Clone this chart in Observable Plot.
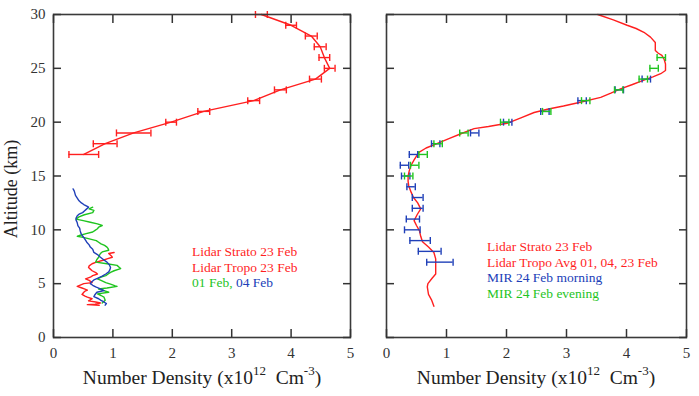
<!DOCTYPE html>
<html><head><meta charset="utf-8">
<script src="https://cdn.jsdelivr.net/npm/d3@7"></script>
<script src="https://cdn.jsdelivr.net/npm/@observablehq/plot@0.6"></script>
<style>
body{margin:0;background:#fff;}
#wrap{display:flex;width:699px;height:396px;background:#fff;}
svg{display:block}
</style></head><body><div id="wrap"></div>
<script>
// ---------- data ----------
const xTicks = [0, 1, 2, 3, 4, 5];
const yTicks = [0, 5, 10, 15, 20, 25, 30];

// Left panel: Lidar Strato 23 Feb (altitude km, density, error)
const strAlt = [17, 18, 19, 20, 21, 22, 23, 24, 25, 26, 27, 28, 29, 30];
const strVal = [0.51, 0.87, 1.35, 1.98, 2.53, 3.37, 3.82, 4.41, 4.65, 4.56, 4.49, 4.34, 4.00, 3.50];
const strErr = [0.25, 0.20, 0.29, 0.09, 0.10, 0.10, 0.10, 0.10, 0.09, 0.09, 0.10, 0.10, 0.09, 0.10];

// Left panel: Lidar Tropo 23 Feb [alt, density]
const tropoRed = [[7.9,1.02],[7.8,0.93],[7.6,0.97],[7.45,0.99],[7.3,0.90],[7.2,0.85],[7.0,0.72],[6.85,0.65],[6.65,0.60],[6.5,0.59],[6.35,0.62],[6.2,0.65],[6.0,0.72],[5.9,0.74],[5.75,0.66],[5.6,0.62],[5.45,0.54],[5.3,0.60],[5.1,0.65],[5.0,0.51],[4.85,0.44],[4.75,0.40],[4.6,0.48],[4.5,0.53],[4.4,0.57],[4.3,0.53],[4.2,0.51],[4.0,0.48],[3.85,0.53],[3.75,0.57],[3.6,0.65],[3.5,0.62],[3.4,0.59],[3.3,0.71],[3.2,0.79],[3.1,0.70],[3.05,0.57],[3.0,0.77]];
// 01 Feb
const tropoGreen = [[12.1,0.66],[11.95,0.60],[11.8,0.68],[11.6,0.66],[11.4,0.52],[11.2,0.43],[11.0,0.38],[10.85,0.50],[10.7,0.62],[10.55,0.74],[10.4,0.82],[10.25,0.76],[10.1,0.74],[9.95,0.70],[9.8,0.66],[9.65,0.55],[9.5,0.45],[9.4,0.40],[9.3,0.50],[9.2,0.57],[9.0,0.72],[8.85,0.76],[8.7,0.80],[8.55,0.86],[8.4,0.90],[8.25,0.92],[8.1,0.93],[7.95,0.82],[7.8,0.79],[7.6,0.77],[7.45,0.76],[7.25,0.73],[7.0,0.71],[6.85,0.90],[6.7,1.07],[6.55,1.10],[6.4,1.13],[6.2,1.02],[6.05,0.96],[5.9,0.92],[5.75,0.88],[5.6,0.80],[5.45,0.74],[5.3,0.80],[5.1,0.88],[4.95,0.96],[4.8,1.04],[4.75,1.07],[4.6,0.90],[4.5,0.76],[4.35,0.85],[4.2,0.93],[4.05,0.74],[3.9,0.80],[3.75,0.85],[3.6,0.86],[3.45,0.87],[3.3,0.84],[3.2,0.82]];
// 04 Feb
const tropoBlue = [[13.8,0.33],[13.6,0.35],[13.2,0.37],[12.95,0.40],[12.7,0.43],[12.5,0.47],[12.35,0.51],[12.2,0.56],[12.1,0.59],[11.9,0.55],[11.75,0.52],[11.6,0.49],[11.45,0.43],[11.3,0.40],[11.1,0.38],[10.9,0.38],[10.65,0.40],[10.4,0.41],[10.15,0.44],[9.9,0.45],[9.7,0.46],[9.5,0.48],[9.2,0.52],[8.85,0.56],[8.6,0.60],[8.4,0.62],[8.2,0.66],[7.9,0.68],[7.7,0.74],[7.45,0.79],[7.2,0.85],[7.0,0.90],[6.75,0.94],[6.5,0.96],[6.3,0.95],[6.1,0.93],[5.9,0.88],[5.7,0.82],[5.5,0.74],[5.35,0.68],[5.15,0.64],[5.0,0.62],[4.85,0.66],[4.7,0.71],[4.5,0.80],[4.35,0.85],[4.2,0.73],[4.0,0.70],[3.8,0.68],[3.6,0.76],[3.45,0.80],[3.3,0.85],[3.15,0.89],[3.0,0.87]];

// Right panel: Lidar Strato 23 Feb + Lidar Tropo Avg [alt, density]
const lidarAvg = [[30,3.52],[29.5,3.78],[29.0,4.01],[28.7,4.16],[28.35,4.29],[27.9,4.40],[27.4,4.48],[27.0,4.48],[26.65,4.48],[26.4,4.53],[26.2,4.59],[25.8,4.63],[25.4,4.65],[24.8,4.65],[24.5,4.57],[24.2,4.44],[23.9,4.29],[23.5,4.10],[23.1,3.90],[22.7,3.74],[22.3,3.57],[21.85,3.23],[21.5,2.95],[21.2,2.68],[20.9,2.46],[20.4,2.24],[19.9,2.01],[19.6,1.70],[19.4,1.46],[18.9,1.23],[18.5,1.05],[18.0,0.84],[17.6,0.66],[17.2,0.54],[16.5,0.46],[16.0,0.41],[15.5,0.38],[15.0,0.36],[14.5,0.36],[14.1,0.37],[13.5,0.41],[13.0,0.45],[12.5,0.52],[11.95,0.57],[11.4,0.51],[10.86,0.46],[10.4,0.50],[9.9,0.55],[9.4,0.57],[8.9,0.60],[8.4,0.70],[7.9,0.79],[7.3,0.82],[6.7,0.82],[5.9,0.82],[5.5,0.76],[5.0,0.69],[4.7,0.68],[4.0,0.70],[3.5,0.75],[2.9,0.79]];

// MIR 24 Feb morning
const mirMornAlt = [24, 23, 22, 21, 20, 19, 18, 17, 16, 15, 14, 13, 12, 11, 10, 9, 8, 7];
const mirMornVal = [4.33, 3.88, 3.26, 2.64, 2.02, 1.47, 0.82, 0.45, 0.30, 0.32, 0.41, 0.52, 0.52, 0.44, 0.43, 0.56, 0.72, 0.89];
const mirMornErr = [0.07, 0.07, 0.07, 0.07, 0.07, 0.07, 0.07, 0.07, 0.07, 0.07, 0.07, 0.09, 0.09, 0.11, 0.13, 0.17, 0.19, 0.22];
// MIR 24 Feb evening
const mirEveAlt = [26, 25, 24, 23, 22, 21, 20, 19, 18, 17, 16, 15];
const mirEveVal = [4.58, 4.46, 4.28, 3.87, 3.32, 2.67, 1.97, 1.29, 0.86, 0.61, 0.47, 0.37];
const mirEveErr = [0.07, 0.07, 0.07, 0.07, 0.07, 0.07, 0.07, 0.07, 0.07, 0.07, 0.07, 0.07];

const legendLeft = [
  [{t: "Lidar Strato 23 Feb", c: "red"}],
  [{t: "Lidar Tropo 23 Feb", c: "red"}],
  [{t: "01 Feb, ", c: "green"}, {t: "04 Feb", c: "blue"}]
];
const legendRight = [
  [{t: "Lidar Strato 23 Feb", c: "red"}],
  [{t: "Lidar Tropo Avg 01, 04, 23 Feb", c: "red"}],
  [{t: "MIR 24 Feb morning", c: "blue"}],
  [{t: "MIR 24 Feb evening", c: "green"}]
];
const xTitle = ["Number Density (x10", "12", "  Cm", "-3", ")"];
const yTitle = "Altitude (km)";

// ---------- styling ----------
const COL = {red: "#ff1f1f", green: "#1fc41f", blue: "#2040b8"};
const FONT = "'Liberation Serif', 'Times New Roman', serif";
const capSymbol = {draw(ctx, size) { const r = Math.sqrt(size / Math.PI); ctx.moveTo(0, -r); ctx.lineTo(0, r); }};

const toRows = (alt, val, err) => alt.map((a, i) => ({alt: a, val: val[i], lo: val[i] - err[i], hi: val[i] + err[i]}));
const pairRows = arr => arr.map(([a, v]) => ({alt: a, val: v}));

function errorBars(rows, color, capR) {
  return [
    Plot.ruleY(rows, {y: "alt", x1: "lo", x2: "hi", stroke: color, strokeWidth: 1.4}),
    Plot.dot(rows, {x: "lo", y: "alt", symbol: capSymbol, r: capR, stroke: color, fill: "none", strokeWidth: 1.4}),
    Plot.dot(rows, {x: "hi", y: "alt", symbol: capSymbol, r: capR, stroke: color, fill: "none", strokeWidth: 1.4})
  ];
}

function panel({width, marginLeft, marginRight, marks, yLabels}) {
  return Plot.plot({
    width, height: 396, marginLeft, marginRight, marginTop: 14, marginBottom: 59,
    x: {domain: [0, 5]}, y: {domain: [0, 30]},
    style: {fontFamily: FONT, fontSize: "15px", color: "#333", background: "white", overflow: "visible"},
    marks: [
      ...marks,
      Plot.frame({stroke: "#3a3a3a", strokeWidth: 1.6}),
      Plot.axisX(xTicks, {anchor: "bottom", tickSize: 0, tickPadding: 10, label: null, fontSize: 15}),
      Plot.axisX(xTicks, {anchor: "bottom", tickSize: -8, tickFormat: () => "", label: null, strokeWidth: 1.5}),
      Plot.axisX(xTicks, {anchor: "top", tickSize: -8, tickFormat: () => "", label: null, strokeWidth: 1.5}),
      yLabels ? Plot.axisY(yTicks, {anchor: "left", tickSize: 0, tickPadding: 8, label: null, fontSize: 15}) : null,
      Plot.axisY(yTicks, {anchor: "left", tickSize: -8, tickFormat: () => "", label: null, strokeWidth: 1.5}),
      Plot.axisY(yTicks, {anchor: "right", tickSize: -8, tickFormat: () => "", label: null, strokeWidth: 1.5})
    ]
  });
}

function addXTitle(svg, cx) {
  const t = d3.select(svg).append("text")
    .attr("x", cx).attr("y", 384).attr("text-anchor", "middle")
    .style("font-family", FONT).style("font-size", "19.5px").style("fill", "#222")
    .attr("xml:space", "preserve");
  xTitle.forEach((s, i) => {
    const sup = i === 1 || i === 3;
    const ts = t.append("tspan").text(s);
    if (sup) ts.attr("dy", -9).style("font-size", "13px");
    else if (i > 0) ts.attr("dy", 9);
  });
}

function addLegend(svg, x, y0, dy, lines) {
  const g = d3.select(svg).append("g");
  lines.forEach((parts, i) => {
    const t = g.append("text").attr("x", x).attr("y", y0 + i * dy)
      .attr("text-anchor", "start")
      .style("font-family", FONT).style("font-size", "13.5px").attr("xml:space", "preserve");
    parts.forEach(p => t.append("tspan").text(p.t).style("fill", COL[p.c]));
  });
}

// ---------- left panel ----------
const left = panel({
  width: 360, marginLeft: 53, marginRight: 10, yLabels: true,
  marks: [
    Plot.line(pairRows(tropoRed), {x: "val", y: "alt", stroke: COL.red, strokeWidth: 1.4}),
    Plot.line(pairRows(tropoGreen), {x: "val", y: "alt", stroke: COL.green, strokeWidth: 1.4}),
    Plot.line(pairRows(tropoBlue), {x: "val", y: "alt", stroke: COL.blue, strokeWidth: 1.4}),
    Plot.line(toRows(strAlt, strVal, strErr), {x: "val", y: "alt", stroke: COL.red, strokeWidth: 1.4}),
    ...errorBars(toRows(strAlt, strVal, strErr), COL.red, 3.5)
  ]
});
addXTitle(left, 202);
addLegend(left, 192, 256, 15.5, legendLeft);
d3.select(left).append("text")
  .attr("transform", "translate(17,189) rotate(-90)").attr("text-anchor", "middle")
  .style("font-family", FONT).style("font-size", "18px").style("fill", "#222")
  .text(yTitle);

// ---------- right panel ----------
const right = panel({
  width: 339, marginLeft: 26, marginRight: 13, yLabels: false,
  marks: [
    Plot.line(pairRows(lidarAvg), {x: "val", y: "alt", stroke: COL.red, strokeWidth: 1.4}),
    ...errorBars(toRows(mirMornAlt, mirMornVal, mirMornErr), COL.blue, 3.5),
    ...errorBars(toRows(mirEveAlt, mirEveVal, mirEveErr), COL.green, 3.5)
  ]
});
addXTitle(right, 176);
addLegend(right, 127, 251, 15.5, legendRight);

document.getElementById("wrap").append(left, right);
</script>
</body></html>
